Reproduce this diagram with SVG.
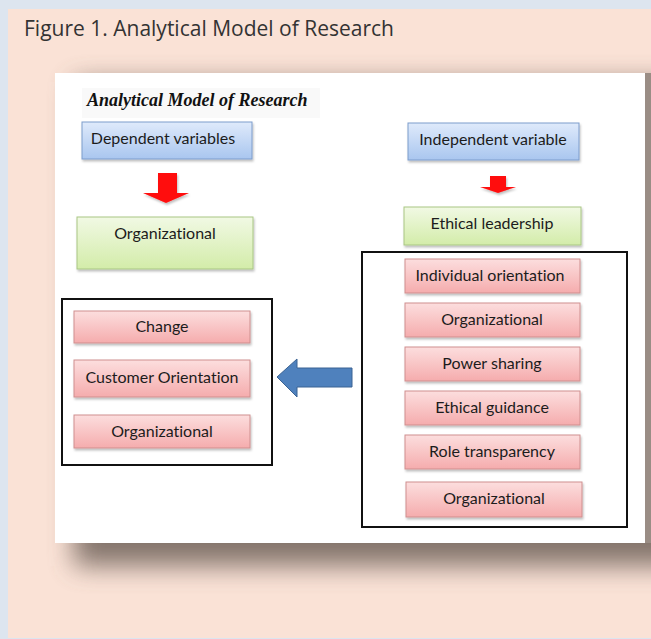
<svg xmlns="http://www.w3.org/2000/svg" width="651" height="639" viewBox="0 0 651 639">
  <defs>
    <style>
      .lbl { font-family: Lato, "Open Sans", "DejaVu Sans", sans-serif; font-size: 16px; fill: #1c1c1c; text-anchor: middle; font-variant-ligatures: none; }
      .pink { fill: url(#gPink); stroke: #cf8f8f; stroke-width: 1; }
      .green { fill: url(#gGreen); stroke: #a9c684; stroke-width: 1; }
      .blue { fill: url(#gBlue); stroke: #7d9dcc; stroke-width: 1; }
      .frame { fill: none; stroke: #111; stroke-width: 2; }
      .red { fill: #ff0a0a; }
    </style>
    <linearGradient id="gPink" x1="0" y1="0" x2="0" y2="1">
      <stop offset="0" stop-color="#fcdede"/>
      <stop offset="1" stop-color="#f5acad"/>
    </linearGradient>
    <linearGradient id="gGreen" x1="0" y1="0" x2="0" y2="1">
      <stop offset="0" stop-color="#f1f9e4"/>
      <stop offset="1" stop-color="#d3eca9"/>
    </linearGradient>
    <linearGradient id="gBlue" x1="0" y1="0" x2="0" y2="1">
      <stop offset="0" stop-color="#dfeafb"/>
      <stop offset="1" stop-color="#a9c6ef"/>
    </linearGradient>
    <filter id="cardShadow" x="-20%" y="-20%" width="140%" height="140%">
      <feGaussianBlur stdDeviation="13"/>
    </filter>
    <filter id="boxShadow" x="-10%" y="-20%" width="120%" height="150%">
      <feDropShadow dx="1" dy="2" stdDeviation="1" flood-color="#000" flood-opacity="0.25"/>
    </filter>
  </defs>

  <!-- page background -->
  <rect x="0" y="0" width="651" height="639" fill="#dde5ef"/>
  <rect x="8" y="9" width="643" height="629" fill="#fae2d6"/>

  <text x="24" y="36" font-family="'Open Sans', Lato, sans-serif" font-size="21" fill="#333">Figure 1. Analytical Model of Research</text>

  <!-- white card with soft shadow -->
  <rect x="74" y="82" width="608" height="484" fill="#6f625a" opacity="0.85" filter="url(#cardShadow)"/>
  <rect x="645" y="73" width="6" height="470" fill="#9a8d85"/>
  <rect x="55" y="73" width="590" height="470" fill="#ffffff"/>

  <rect x="82" y="88" width="238" height="30" fill="#f9f9f9"/>
  <text x="87" y="106" font-family="'Liberation Serif', 'DejaVu Serif', serif" font-size="18" font-weight="bold" font-style="italic" fill="#111">Analytical Model of Research</text>

  <!-- frames around the factor lists -->
  <g id="frame-dependent">
    <rect class="frame" x="62" y="299" width="210" height="166"/>
  </g>
  <g id="frame-independent">
    <rect class="frame" x="362" y="252" width="265" height="275"/>
  </g>

  <!-- dependent side -->
  <g id="dependent-variables">
    <rect class="blue" x="82" y="122" width="170" height="37" filter="url(#boxShadow)"/>
    <text class="lbl" x="163" y="144">Dependent variables</text>
  </g>
  <g id="dependent-organizational">
    <rect class="green" x="77" y="217" width="176" height="52" filter="url(#boxShadow)"/>
    <text class="lbl" x="165" y="239">Organizational</text>
  </g>
  <g id="change">
    <rect class="pink" x="74" y="311" width="176" height="32" filter="url(#boxShadow)"/>
    <text class="lbl" x="162" y="332">Change</text>
  </g>
  <g id="customer-orientation">
    <rect class="pink" x="74" y="360" width="176" height="37" filter="url(#boxShadow)"/>
    <text class="lbl" x="162" y="383">Customer Orientation</text>
  </g>
  <g id="dependent-organizational-2">
    <rect class="pink" x="74" y="415" width="176" height="33" filter="url(#boxShadow)"/>
    <text class="lbl" x="162" y="437">Organizational</text>
  </g>

  <!-- independent side -->
  <g id="independent-variable">
    <rect class="blue" x="408" y="123" width="171" height="37" filter="url(#boxShadow)"/>
    <text class="lbl" x="493" y="145">Independent variable</text>
  </g>
  <g id="ethical-leadership">
    <rect class="green" x="404" y="207" width="177" height="38" filter="url(#boxShadow)"/>
    <text class="lbl" x="492" y="229">Ethical leadership</text>
  </g>
  <g id="individual-orientation">
    <rect class="pink" x="405" y="259" width="175" height="34" filter="url(#boxShadow)"/>
    <text class="lbl" x="490" y="281">Individual orientation</text>
  </g>
  <g id="independent-organizational">
    <rect class="pink" x="405" y="303" width="175" height="34" filter="url(#boxShadow)"/>
    <text class="lbl" x="492" y="325">Organizational</text>
  </g>
  <g id="power-sharing">
    <rect class="pink" x="405" y="347" width="175" height="34" filter="url(#boxShadow)"/>
    <text class="lbl" x="492" y="369">Power sharing</text>
  </g>
  <g id="ethical-guidance">
    <rect class="pink" x="405" y="391" width="175" height="34" filter="url(#boxShadow)"/>
    <text class="lbl" x="492" y="413">Ethical guidance</text>
  </g>
  <g id="role-transparency">
    <rect class="pink" x="405" y="435" width="175" height="34" filter="url(#boxShadow)"/>
    <text class="lbl" x="492" y="457">Role transparency</text>
  </g>
  <g id="independent-organizational-2">
    <rect class="pink" x="406" y="482" width="176" height="35" filter="url(#boxShadow)"/>
    <text class="lbl" x="494" y="504">Organizational</text>
  </g>

  <!-- block arrows -->
  <g id="connectors">
    <polygon class="red" points="158,173 177,173 177,193 189,193 166,203 143,193 158,193" filter="url(#boxShadow)"/>
    <polygon class="red" points="490,176 506,176 506,187 516,187 498,193 480,187 490,187" filter="url(#boxShadow)"/>
    <polygon points="352,368 297,368 297,359 277,377 297,397 297,387 352,387" fill="#4f81bd" stroke="#3b6393" stroke-width="1"/>
  </g>
</svg>
